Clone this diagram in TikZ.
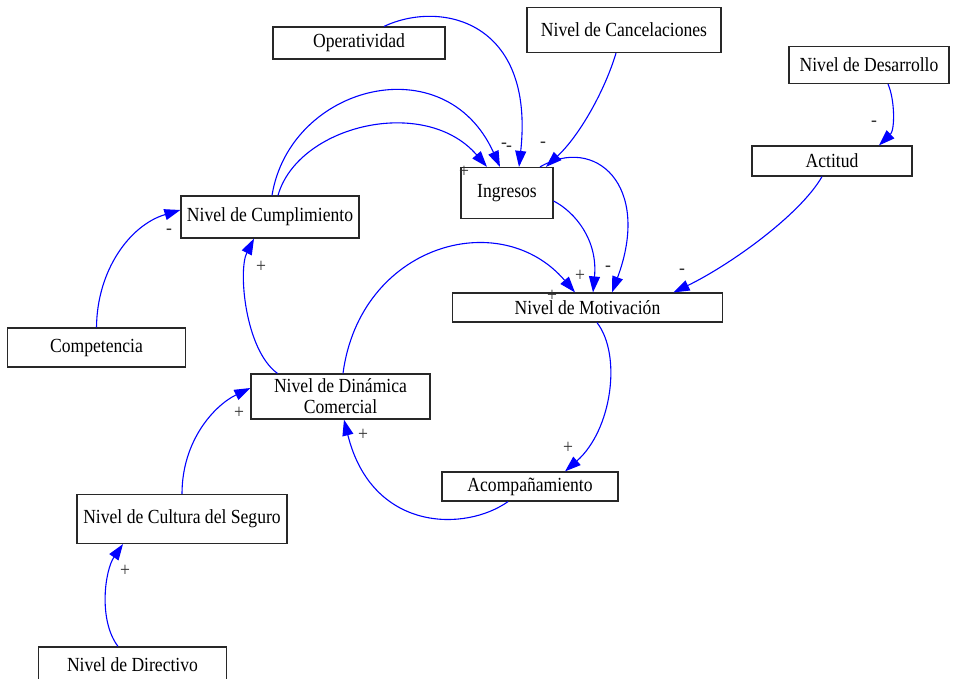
\documentclass[tikz,border=0pt]{standalone}
\usepackage{fontspec}
\setmainfont{Liberation Serif}[FakeStretch=0.88]
\usetikzlibrary{arrows.meta}
\definecolor{linkblue}{RGB}{0,0,255}
\definecolor{boxline}{RGB}{40,40,40}
\tikzset{
  var/.style={draw=boxline, line width=1.2pt, fill=white, inner sep=0pt,
    align=center, font=\fontsize{20}{21}\selectfont},
  link/.style={draw=linkblue, line width=1.1pt,
    -{Triangle[length=16pt,width=11pt]}, fill=none},
  sign/.style={font=\fontsize{20}{20}\selectfont, text=black!80, inner sep=0pt}
}
\begin{document}
\begin{tikzpicture}[x=1pt,y=-1pt]
\useasboundingbox (0,0) rectangle (955,678);

% variables
\node[var, minimum width=172pt, minimum height=32pt] (ope) at (359,43) {Operatividad};
\node[var, minimum width=194pt, minimum height=45pt] (can) at (624,30) {Nivel de Cancelaciones};
\node[var, minimum width=160pt, minimum height=37pt] (des) at (869,65) {Nivel de Desarrollo};
\node[var, minimum width=160pt, minimum height=30pt] (act) at (832,161) {Actitud};
\node[var, minimum width=92pt, minimum height=51pt] (ing) at (507,193) {Ingresos};
\node[var, minimum width=178pt, minimum height=42pt] (cum) at (270,217) {Nivel de Cumplimiento};
\node[var, minimum width=270pt, minimum height=29pt] (mot) at (587.5,307.5) {Nivel de Motivación};
\node[var, minimum width=178pt, minimum height=39pt] (com) at (96.5,347.5) {Competencia};
\node[var, minimum width=179pt, minimum height=45pt] (din) at (340.5,396.5) {Nivel de Dinámica\\Comercial};
\node[var, minimum width=176pt, minimum height=29pt] (aco) at (530,486.5) {Acompañamiento};
\node[var, minimum width=210pt, minimum height=49pt] (cul) at (182,519) {Nivel de Cultura del Seguro};
\node[var, minimum width=188pt, minimum height=36pt] (dir) at (132.5,665) {Nivel de Directivo};

% causal links
\draw[link] ([xshift=25pt]ope.north) .. controls (440,0) and (535,20) .. ([xshift=12pt]ing.north);
\draw[link] ([xshift=-8pt]can.south) .. controls (605,90) and (580,135) .. ([xshift=39pt]ing.north);
\draw[link] ([xshift=2pt]cum.north) .. controls (290,85) and (445,45) .. ([xshift=-7pt]ing.north);
\draw[link] ([xshift=8pt]cum.north) .. controls (298,125) and (425,95) .. ([xshift=-20pt]ing.north);
\draw[link] ([yshift=-8pt]ing.east) .. controls (575,212) and (598,240) .. ([xshift=5.5pt]mot.north);
\draw[link] ([xshift=33pt]ing.north) .. controls (595,135) and (652,185) .. ([xshift=24.5pt]mot.north);
\draw[link] ([xshift=19pt]des.south) .. controls (895,100) and (895,130) .. ([xshift=47pt]act.north);
\draw[link] ([xshift=-10pt]act.south) .. controls (800,215) and (730,265) .. ([xshift=86pt]mot.north);
\draw[link] (com.north) .. controls (97,270) and (130,225) .. ([yshift=7pt]cum.west);
\draw[link] ([xshift=-63pt]din.north) .. controls (245,350) and (238,270) .. ([xshift=-16pt]cum.south);
\draw[link] ([xshift=2.5pt]din.north) .. controls (360,245) and (500,205) .. ([xshift=-12.5pt]mot.north);
\draw[link] ([xshift=9.5pt]mot.south) .. controls (622,355) and (612,430) .. ([xshift=35pt]aco.north);
\draw[link] ([xshift=-22pt]aco.south) .. controls (465,532) and (372,532) .. ([xshift=3.5pt]din.south);
\draw[link] (cul.north) .. controls (182,440) and (215,405) .. ([yshift=8.5pt]din.west);
\draw[link] ([xshift=-14.5pt]dir.north) .. controls (98,620) and (105,570) .. ([xshift=-59pt]cul.south);

% polarity signs
\node[sign] (s1) at (504,146) {-};
\node[sign] (s2) at (509,149) {-};
\node[sign] (s3) at (543,145) {-};
\node[sign] (s4) at (464,172) {+};
\node[sign] (s5) at (608,269) {-};
\node[sign] (s6) at (580,276) {+};
\node[sign] (s7) at (552,296) {+};
\node[sign] (s8) at (682,272) {-};
\node[sign] (s9) at (874,124) {-};
\node[sign] (s10) at (169,232) {-};
\node[sign] (s11) at (261,267) {+};
\node[sign] (s12) at (239,413) {+};
\node[sign] (s13) at (363,435) {+};
\node[sign] (s14) at (568,448) {+};
\node[sign] (s15) at (125,571) {+};
\end{tikzpicture}
\end{document}
